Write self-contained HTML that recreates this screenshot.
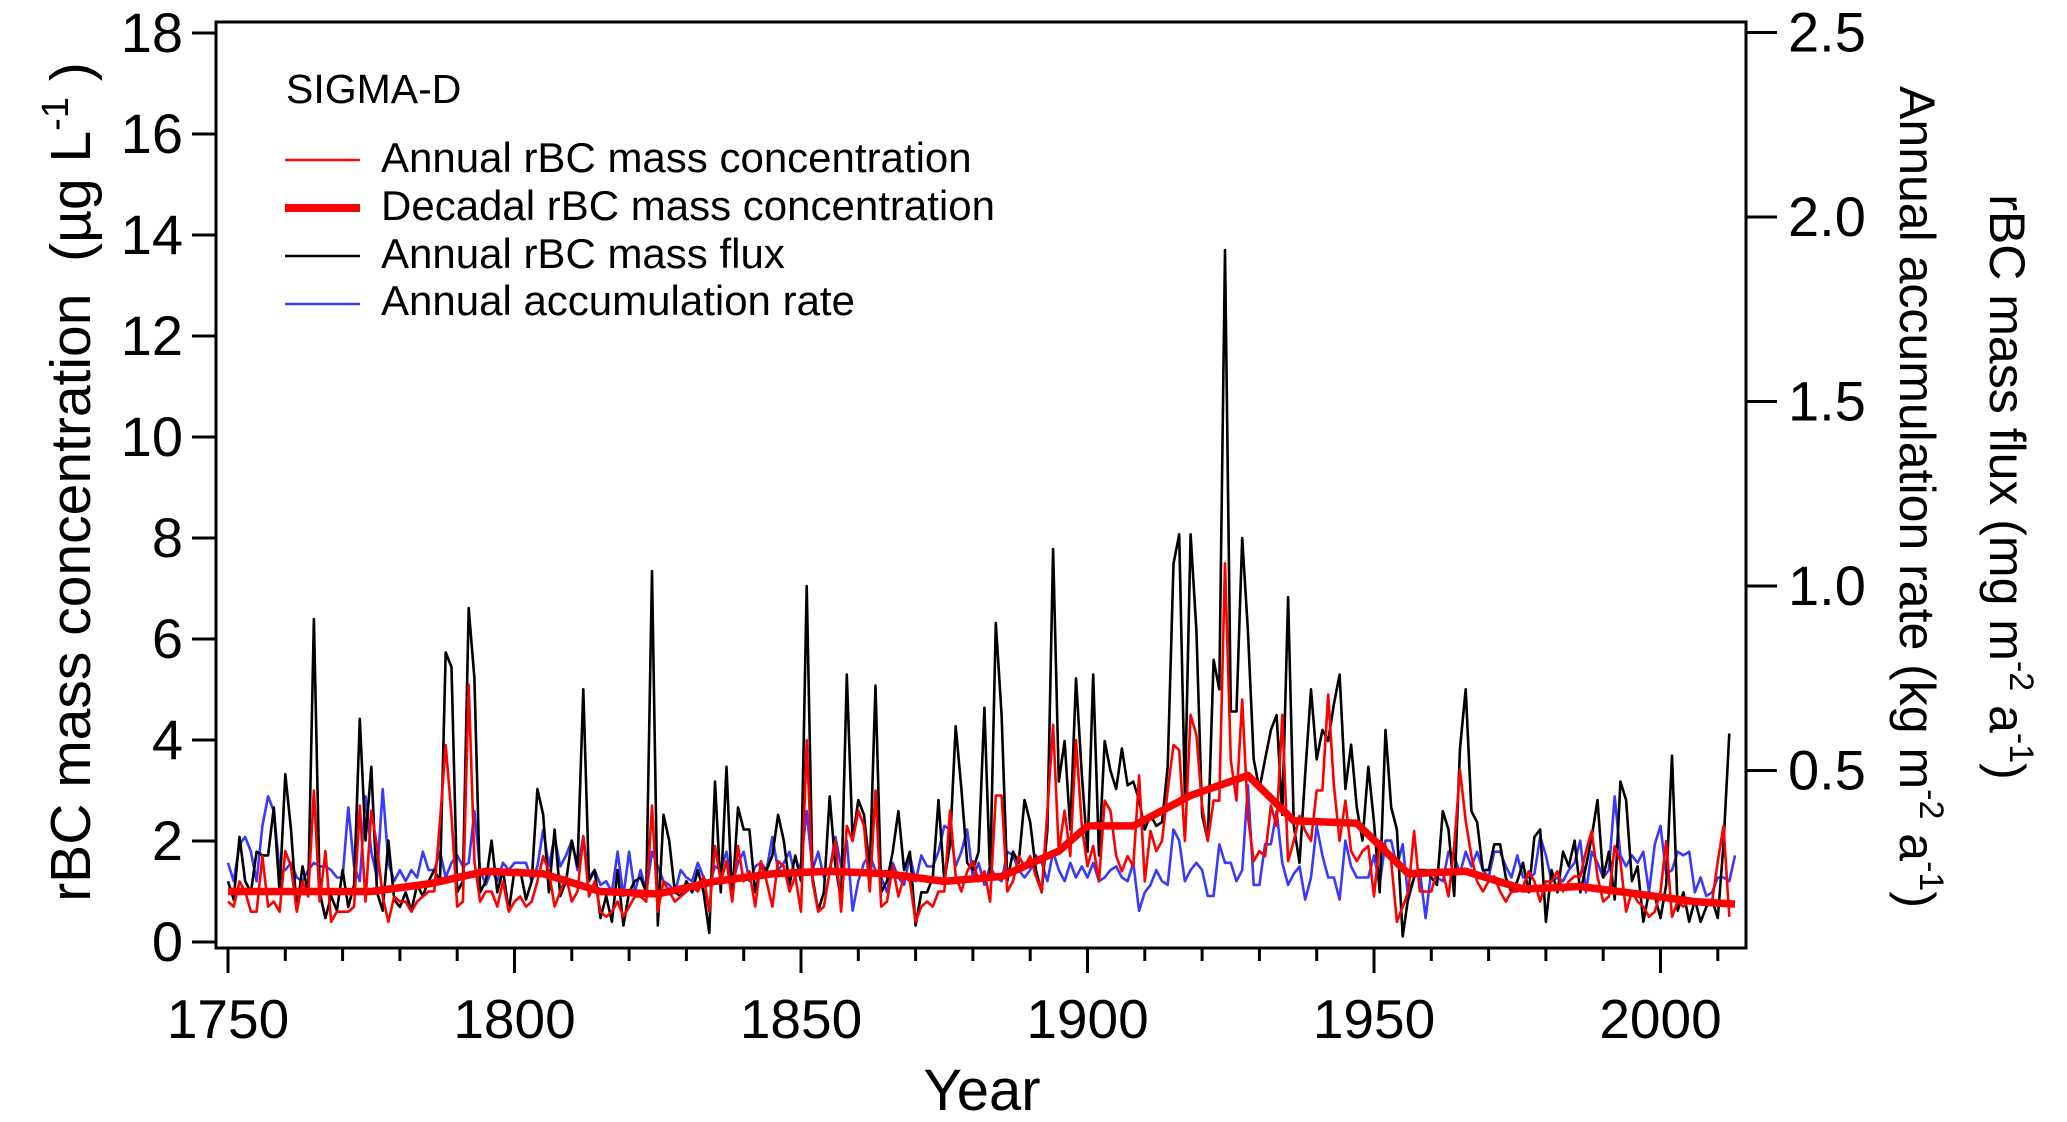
<!DOCTYPE html>
<html><head><meta charset="utf-8"><style>
html,body{margin:0;padding:0;background:#fff;}
svg{display:block;font-family:"Liberation Sans",Arial,sans-serif;}
</style></head><body>
<svg id="chart" width="2067" height="1122" viewBox="0 0 2067 1122">
<rect x="0" y="0" width="2067" height="1122" fill="#fff"/>
<g id="series"></g>
<rect x="216" y="22" width="1530" height="926" fill="none" stroke="#000" stroke-width="3"/>
<g id="axes"></g>
<text transform="translate(90,482) rotate(-90)" text-anchor="middle" font-size="57" xml:space="preserve">rBC mass concentration  (µg L<tspan dy="-22" font-size="38">-1</tspan><tspan dy="22"> )</tspan></text>
<text transform="translate(1900,497) rotate(90)" text-anchor="middle" font-size="50">Annual accumulation rate (kg m<tspan dy="-20" font-size="34">-2</tspan><tspan dy="20"> a</tspan><tspan dy="-20" font-size="34">-1</tspan><tspan dy="20">)</tspan></text>
<text transform="translate(1990,487) rotate(90)" text-anchor="middle" font-size="50">rBC mass flux (mg m<tspan dy="-20" font-size="34">-2</tspan><tspan dy="20"> a</tspan><tspan dy="-20" font-size="34">-1</tspan><tspan dy="20">)</tspan></text>
<text x="982" y="1110" text-anchor="middle" font-size="58">Year</text>
<g>
<text x="286" y="103" font-size="41">SIGMA-D</text>
<line x1="285" y1="160" x2="360" y2="160" stroke="#f00" stroke-width="2.5"/>
<text x="381" y="172" font-size="42">Annual rBC mass concentration</text>
<line x1="285" y1="208" x2="360" y2="208" stroke="#f00" stroke-width="8"/>
<text x="381" y="220" font-size="42">Decadal rBC mass concentration</text>
<line x1="285" y1="256" x2="360" y2="256" stroke="#000" stroke-width="2.5"/>
<text x="381" y="268" font-size="42">Annual rBC mass flux</text>
<line x1="285" y1="304" x2="360" y2="304" stroke="#3a3aff" stroke-width="2.5"/>
<text x="381" y="315" font-size="42">Annual accumulation rate</text>
</g>
</svg>
<script>
const startYear = 1750;
const concAnnual = [
0.8,0.7,1.2,1.0,0.6,0.6,1.7,0.7,0.8,0.6,
1.8,1.5,0.6,1.2,0.9,3.0,0.8,1.8,0.4,0.6,
0.6,0.6,0.7,2.7,0.8,2.6,1.9,0.9,0.4,0.9,
0.8,0.8,0.6,0.8,0.9,1.0,1.0,2.4,3.9,2.5,
0.7,0.8,5.1,1.6,0.8,1.0,1.0,0.7,1.2,0.6,
0.8,0.9,0.7,0.8,1.2,1.7,1.4,0.7,1.0,1.3,
0.8,1.0,2.1,0.9,1.2,0.6,0.5,0.6,0.8,0.5,
0.7,0.9,0.9,0.8,2.7,0.6,1.2,1.0,0.8,0.9,
1.0,1.1,1.0,1.3,0.6,1.9,1.2,1.6,0.8,1.9,
1.2,1.4,0.7,1.6,1.2,0.7,1.6,1.5,1.0,1.3,
0.6,4.0,1.2,0.6,0.7,1.4,2.0,0.6,2.3,2.0,
2.6,2.3,1.0,3.0,0.7,0.8,1.5,0.9,1.3,1.2,
0.4,0.7,0.8,0.7,1.0,1.0,2.6,1.3,1.0,1.4,
1.6,1.2,1.4,0.8,2.9,2.9,1.0,1.2,1.7,1.5,
1.7,1.3,1.0,2.6,4.3,1.8,2.6,1.7,4.0,2.3,
1.5,1.9,1.2,2.8,2.6,1.7,1.4,1.7,1.5,3.3,
1.2,2.2,1.8,2.0,3.0,3.9,3.8,2.0,4.5,4.1,
2.7,2.0,2.8,2.8,7.5,3.6,2.8,4.8,2.5,1.6,
1.8,1.7,2.7,2.3,4.5,1.6,2.0,2.5,2.2,2.0,
3.0,3.0,4.9,3.1,2.0,2.8,1.8,1.6,1.8,1.9,
0.9,2.0,1.9,1.6,0.4,0.7,1.0,2.2,1.0,1.0,
1.0,1.4,1.4,0.9,1.9,3.4,2.4,1.7,1.2,1.0,
1.2,1.3,1.0,0.8,1.0,1.0,1.1,1.4,1.2,0.8,
1.2,1.2,1.4,1.0,1.2,1.3,1.3,1.8,2.2,1.3,
0.8,0.9,1.9,1.6,0.6,1.0,0.8,0.7,0.5,0.6,
1.0,2.0,0.5,0.8,0.7,0.8,0.8,0.8,0.8,0.8,
1.6,2.3,0.5];
const fluxAnnual = [
.20,.15,.32,.20,.17,.28,.27,.27,.40,.17,
.49,.34,.12,.24,.17,.91,.17,.10,.16,.12,
.23,.13,.19,.64,.31,.51,.17,.12,.31,.15,
.13,.17,.12,.19,.16,.20,.23,.20,.82,.78,
.17,.20,.94,.75,.17,.20,.31,.17,.23,.12,
.23,.23,.15,.20,.45,.38,.17,.34,.16,.20,
.31,.24,.72,.20,.23,.10,.16,.09,.23,.08,
.17,.20,.21,.17,1.04,.08,.38,.31,.17,.16,
.20,.17,.23,.17,.06,.47,.17,.51,.15,.40,
.34,.34,.17,.24,.23,.27,.38,.31,.19,.27,
.20,1.0,.21,.12,.17,.43,.24,.15,.76,.31,
.42,.38,.23,.73,.17,.20,.28,.39,.23,.28,
.08,.17,.17,.21,.42,.20,.30,.62,.45,.25,
.23,.28,.67,.21,.90,.65,.20,.28,.25,.42,
.36,.23,.17,.34,1.10,.47,.58,.34,.75,.49,
.28,.76,.27,.58,.50,.45,.56,.46,.47,.42,
.34,.38,.35,.36,.51,1.06,1.14,.43,1.14,.88,
.38,.31,.80,.72,1.91,.66,.66,1.13,.88,.53,
.45,.53,.61,.65,.38,.97,.35,.25,.49,.72,
.53,.61,.58,.68,.76,.45,.57,.40,.31,.51,
.36,.17,.61,.40,.34,.05,.16,.21,.23,.23,
.21,.19,.39,.34,.16,.56,.72,.39,.36,.23,
.23,.30,.30,.21,.17,.20,.25,.17,.32,.34,
.09,.23,.17,.28,.24,.31,.17,.24,.32,.42,
.21,.28,.15,.47,.42,.20,.24,.09,.17,.16,
.10,.19,.54,.12,.17,.09,.15,.09,.13,.15,
.10,.30,.60];
const accumAnnual = [
.25,.20,.30,.32,.28,.20,.35,.43,.39,.23,
.23,.25,.21,.20,.23,.25,.24,.24,.23,.21,
.21,.40,.24,.20,.43,.28,.21,.45,.25,.20,
.23,.20,.23,.21,.28,.23,.23,.28,.21,.25,
.27,.24,.25,.39,.23,.19,.23,.20,.25,.23,
.25,.25,.25,.20,.24,.34,.24,.32,.24,.27,
.31,.23,.32,.21,.23,.19,.20,.17,.28,.16,
.28,.17,.23,.17,.28,.24,.20,.19,.17,.23,
.21,.20,.25,.21,.19,.24,.23,.28,.19,.25,
.28,.20,.24,.25,.23,.32,.23,.25,.28,.21,
.25,.39,.23,.28,.21,.23,.32,.24,.31,.12,
.20,.25,.27,.23,.21,.17,.25,.21,.19,.27,
.20,.27,.24,.24,.28,.35,.34,.24,.28,.34,
.21,.25,.19,.24,.21,.20,.28,.27,.23,.21,
.23,.27,.25,.20,.28,.23,.20,.25,.21,.24,
.21,.25,.20,.21,.23,.24,.21,.20,.25,.12,
.17,.19,.23,.20,.19,.34,.31,.20,.23,.25,
.23,.16,.16,.30,.25,.25,.20,.23,.46,.19,
.19,.30,.30,.39,.25,.19,.22,.24,.15,.21,
.35,.27,.21,.21,.15,.31,.24,.21,.21,.21,
.27,.19,.31,.31,.24,.30,.15,.21,.23,.10,
.23,.21,.20,.28,.27,.22,.28,.24,.28,.23,
.21,.28,.28,.24,.21,.27,.21,.21,.22,.32,
.27,.20,.21,.20,.23,.25,.31,.17,.28,.25,
.21,.23,.43,.27,.24,.27,.25,.28,.17,.30,
.35,.22,.23,.28,.27,.28,.17,.21,.16,.17,
.21,.21,.20,.27];
const decadalYears = [1750,1755,1765,1775,1785,1795,1805,1815,1825,1835,1845,1855,1865,1875,1885,1895,1900,1908,1918,1928,1936,1947,1956,1966,1976,1986,1996,2006,2013];
const decadalConc = [1.0,1.0,1.0,1.0,1.15,1.4,1.35,1.0,0.95,1.2,1.35,1.4,1.35,1.2,1.3,1.8,2.3,2.3,2.9,3.3,2.4,2.35,1.35,1.4,1.05,1.1,0.95,0.8,0.75];
const leftTicks = [0,2,4,6,8,10,12,14,16,18];
const rightTicks = ["0.5","1.0","1.5","2.0","2.5"];
const yearTicks = [1750,1800,1850,1900,1950,2000];

const NS = "http://www.w3.org/2000/svg";
function xS(yr){ return 228 + (yr - 1750) * 5.73; }
function yL(v){ return 942 - 50.5 * v; }
function yR(v){ return 955 - 369 * v; }
function mk(tag, attrs, parent){ const e=document.createElementNS(NS,tag); for(const k in attrs) e.setAttribute(k,attrs[k]); parent.appendChild(e); return e; }

const series = document.getElementById('series');
const axes = document.getElementById('axes');

function pathFrom(vals, yf){ return vals.map((v,i)=>(i?'L':'M')+xS(startYear+i).toFixed(1)+','+yf(v).toFixed(1)).join(''); }

let p = mk('path',{d:pathFrom(accumAnnual,yR),fill:'none',stroke:'#3a3aff','stroke-width':2.6,'stroke-linejoin':'round'},series);


p = mk('path',{d:pathFrom(fluxAnnual,yR),fill:'none',stroke:'#000','stroke-width':2.6,'stroke-linejoin':'round'},series);


p = mk('path',{d:pathFrom(concAnnual,yL),fill:'none',stroke:'#f00','stroke-width':2.6,'stroke-linejoin':'round'},series);


p = mk('path',{d:decadalYears.map((yr,i)=>(i?'L':'M')+xS(yr).toFixed(1)+','+yL(decadalConc[i]).toFixed(1)).join(''),fill:'none',stroke:'#f00','stroke-width':7.5,'stroke-linejoin':'round'},series);



leftTicks.forEach(v=>{
  const y=yL(v);
  const t=mk('line',{x1:192,y1:y,x2:216,y2:y,stroke:'#000','stroke-width':3},axes);
  
  
  const l=mk('text',{x:183,y:y+19,'text-anchor':'end','font-size':56},axes);
  
  
  l.textContent=String(v);
});
rightTicks.forEach(s=>{
  const y=yR(parseFloat(s));
  const t=mk('line',{x1:1746,y1:y,x2:1777,y2:y,stroke:'#000','stroke-width':3},axes);
  
  
  const l=mk('text',{x:1788,y:y+19,'font-size':56},axes);
  
  
  l.textContent=s;
});
for(let yr=1750; yr<=2010; yr+=10){
  const major = yr%50===0;
  const t=mk('line',{x1:xS(yr),y1:948,x2:xS(yr),y2:major?973:961,stroke:'#000','stroke-width':3},axes);
  
  
}
yearTicks.forEach(yr=>{
  const l=mk('text',{x:xS(yr),y:1038,'text-anchor':'middle','font-size':55},axes);
  
  
  l.textContent=String(yr);
});
</script>
</body></html>
